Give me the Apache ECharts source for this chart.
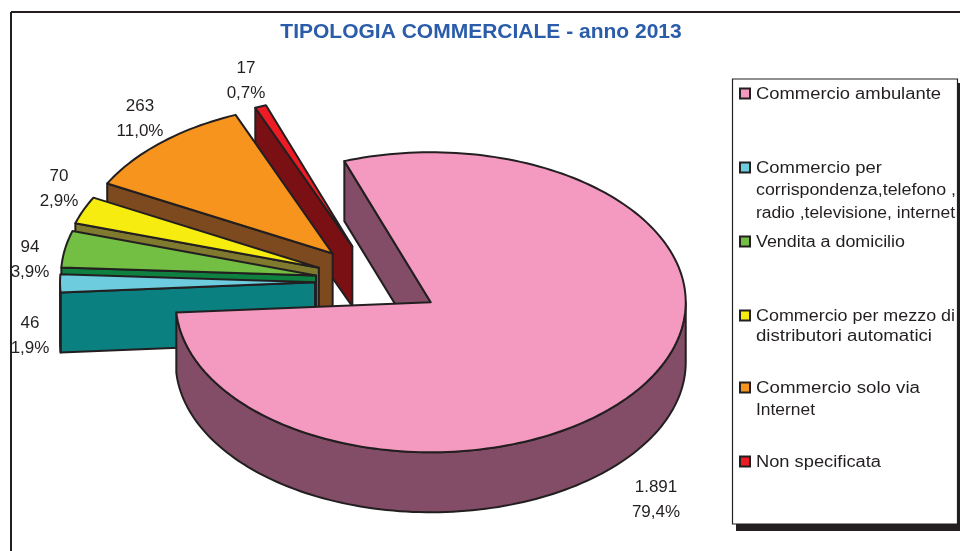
<!DOCTYPE html>
<html><head><meta charset="utf-8">
<style>html,body{margin:0;padding:0;background:#fff}#c{width:960px;height:551px}</style>
<script src="https://cdn.jsdelivr.net/npm/echarts@6/dist/echarts.min.js"></script>
</head><body><div id="c"></div>
<script>
const titleText = 'TIPOLOGIA COMMERCIALE - anno 2013';
const categories = ['Commercio ambulante','Commercio per\ncorrispondenza,telefono ,\nradio ,televisione, internet','Vendita a domicilio','Commercio per mezzo di\ndistributori automatici','Commercio solo via\nInternet','Non specificata'];
const values = [1891,46,94,70,263,17];
const topColors = ['#F49AC1','#6DCCDD','#72BF44','#F7EC0F','#F7941D','#ED1C24'];
const wallColors = ['#834D67','#0A8080','#0E8040','#807A2E','#7C4A1E','#7A1014'];
const labelCenters = [[656,487.5],[30,323.5],[30,247.5],[59,176.5],[140,106.5],[246,68.5]];
const legendRowY = [94.5,168.5,242.5,316.5,388.5,462.5];
const legendLineGap = [22,22.5,22,20,22,22];
const legendLineWidths = [[185],[126,200,199],[149],[199],[119],[125]];
legendLineWidths[3] = [199,176];
legendLineWidths[4] = [164,59];
const sliceNudge = [[0,0],[0,0],[0,0],[-1,0],[-3,-1],[-3,-1]];

const INK = '#231F20';
const cx = 378, cy = 282, rx = 255, ry = 150, depth = 60, explode = 0.247, startDeg = 250.2;
const total = values.reduce((a,b)=>a+b,0);
const rad = d => d*Math.PI/180;
const spans = []; let acc = startDeg;
values.forEach(v=>{ const s = v/total*360; spans.push([acc,acc+s]); acc += s; });

function arc(ax,ay,a,b){ const pts=[]; const n=Math.max(2,Math.ceil((b-a)/1.5));
  for(let i=0;i<=n;i++){ const t=rad(a+(b-a)*i/n); pts.push([ax+rx*Math.cos(t),ay+ry*Math.sin(t)]); } return pts; }

function renderItem(params, api){
  const i = api.value(0), [a,b] = spans[i], mid = rad((a+b)/2);
  const ax = cx+explode*rx*Math.cos(mid)+sliceNudge[i][0], ay = cy+explode*ry*Math.sin(mid)+sliceNudge[i][1];
  const style = f => ({fill:f,stroke:INK,lineWidth:2,lineJoin:'round'});
  const children = [];
  const s=[ax+rx*Math.cos(rad(a)),ay+ry*Math.sin(rad(a))];
  children.push({type:'polygon',shape:{points:[[ax,ay],s,[s[0],s[1]+depth],[ax,ay+depth]]},style:style(wallColors[i])});
  [0,360].forEach(k=>{ const lo=Math.max(a,k), hi=Math.min(b,k+180);
    if(hi>lo){ const t=arc(ax,ay,lo,hi); const bot=t.slice().reverse().map(p=>[p[0],p[1]+depth]);
      children.push({type:'polygon',shape:{points:t.concat(bot)},style:style(wallColors[i])}); }});
  children.push({type:'polygon',shape:{points:[[ax,ay]].concat(arc(ax,ay,a,b))},style:style(topColors[i])});
  return {type:'group',children};
}

const order = values.map((_,i)=>i).slice(1).reverse().concat([0]);
const LEG_FONT = '16px "Liberation Sans"';
const measure = document.createElement('canvas').getContext('2d');
measure.font = LEG_FONT;
const g = [];
g.push({type:'line',shape:{x1:11,y1:12,x2:960,y2:12},style:{stroke:INK,lineWidth:2}});
g.push({type:'line',shape:{x1:11,y1:12,x2:11,y2:551},style:{stroke:INK,lineWidth:2}});
g.push({type:'rect',shape:{x:736,y:83,width:224,height:448},style:{fill:INK}});
g.push({type:'rect',shape:{x:732.5,y:79,width:225,height:445},style:{fill:'#fff',stroke:INK,lineWidth:1.2}});
g.push({type:'text',x:481,y:32.5,style:{text:titleText,font:'bold 21px "Liberation Sans"',fill:'#2A5CAA',textAlign:'center',textVerticalAlign:'middle'}});
categories.forEach((c,i)=>{
  g.push({type:'rect',shape:{x:740,y:legendRowY[i]-6,width:10,height:10},style:{fill:topColors[i],stroke:INK,lineWidth:2}});
  c.split('\n').forEach((line,j)=>{
    const sx = legendLineWidths[i][j]/measure.measureText(line).width;
    g.push({type:'text',x:756,y:legendRowY[i]+j*legendLineGap[i],scaleX:sx,style:{text:line,font:LEG_FONT,fill:INK,textAlign:'left',textVerticalAlign:'middle'}});
  });
});
values.forEach((v,i)=>{
  const num = String(v).replace(/\B(?=(\d{3})+$)/g,'.');
  const pct = (v/total*100).toFixed(1).replace('.',',')+'%';
  [num,pct].forEach((t,j)=>{
    g.push({type:'text',x:labelCenters[i][0],y:labelCenters[i][1]+j*24.5,style:{text:t,font:'17px "Liberation Sans"',fill:INK,textAlign:'center',textVerticalAlign:'middle'}});
  });
});

const chart = echarts.init(document.getElementById('c'),null,{renderer:'canvas'});
chart.setOption({
  animation:false, backgroundColor:'#fff',
  tooltip:{show:false},
  series:[{type:'custom',coordinateSystem:'none',silent:true,renderItem,data:order.map(i=>[i,values[i]]),encode:{value:1}}],
  graphic:g
});
</script></body></html>
